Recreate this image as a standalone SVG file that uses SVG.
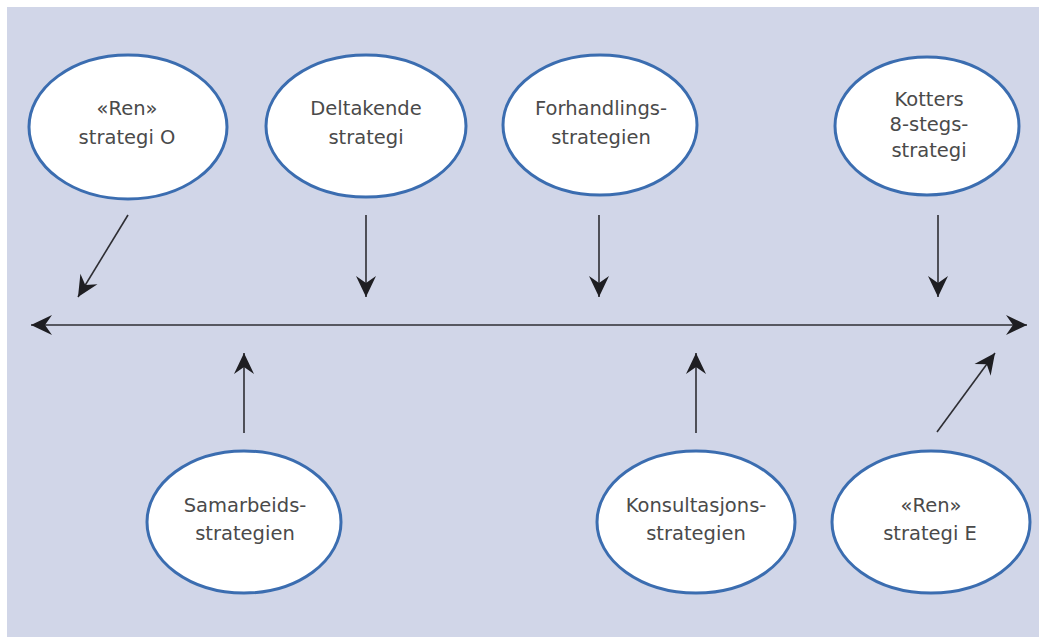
<svg xmlns="http://www.w3.org/2000/svg" width="1039" height="637" viewBox="0 0 1039 637">
<style>
.node ellipse{fill:#ffffff;stroke:#3b6db0;stroke-width:3}
.node text{font-family:"DejaVu Sans","Liberation Sans",sans-serif;font-size:19.5px;fill:#4a4a4a;text-anchor:middle}
.conn line{stroke:#2e2e33;stroke-width:1.6;fill:none}
</style>
<defs>
<marker id="ah" markerUnits="userSpaceOnUse" viewBox="-22 -11 23 22" refX="0" refY="0" markerWidth="23" markerHeight="22" orient="auto-start-reverse">
<path d="M0,0 L-21,-10 L-14,0 L-21,10 Z" fill="#1e1e22"/>
</marker>
</defs>
<rect x="0" y="0" width="1039" height="637" fill="#ffffff"/>
<rect x="7" y="7" width="1032" height="630" fill="#d1d6e8"/>
<g id="connectors" class="conn">
<line x1="31" y1="325" x2="1027" y2="325" marker-start="url(#ah)" marker-end="url(#ah)"/>
<line x1="128" y1="215" x2="78" y2="297" marker-end="url(#ah)"/>
<line x1="366" y1="215" x2="366" y2="297" marker-end="url(#ah)"/>
<line x1="599" y1="215" x2="599" y2="297" marker-end="url(#ah)"/>
<line x1="938" y1="215" x2="938" y2="297" marker-end="url(#ah)"/>
<line x1="244" y1="433" x2="244" y2="353" marker-end="url(#ah)"/>
<line x1="696" y1="433" x2="696" y2="353" marker-end="url(#ah)"/>
<line x1="937" y1="432" x2="995" y2="353" marker-end="url(#ah)"/>
</g>
<g id="ren-o" class="node">
<ellipse cx="128" cy="127" rx="99" ry="72"/>
<text x="127" y="115">«Ren»</text>
<text x="127" y="144">strategi O</text>
</g>
<g id="deltakende" class="node">
<ellipse cx="366" cy="126" rx="100" ry="71"/>
<text x="366" y="115">Deltakende</text>
<text x="366" y="144">strategi</text>
</g>
<g id="forhandling" class="node">
<ellipse cx="600" cy="125" rx="97" ry="70"/>
<text x="601" y="115">Forhandlings-</text>
<text x="601" y="144">strategien</text>
</g>
<g id="kotter" class="node">
<ellipse cx="927" cy="126" rx="92" ry="69"/>
<text x="929" y="106">Kotters</text>
<text x="929" y="131">8-stegs-</text>
<text x="929" y="157">strategi</text>
</g>
<g id="samarbeid" class="node">
<ellipse cx="244" cy="522" rx="97" ry="71"/>
<text x="245" y="512">Samarbeids-</text>
<text x="245" y="540">strategien</text>
</g>
<g id="konsultasjon" class="node">
<ellipse cx="696" cy="522" rx="99" ry="71"/>
<text x="696" y="512">Konsultasjons-</text>
<text x="696" y="540">strategien</text>
</g>
<g id="ren-e" class="node">
<ellipse cx="931" cy="522" rx="99" ry="71"/>
<text x="931" y="512">«Ren»</text>
<text x="930" y="540">strategi E</text>
</g>
</svg>
